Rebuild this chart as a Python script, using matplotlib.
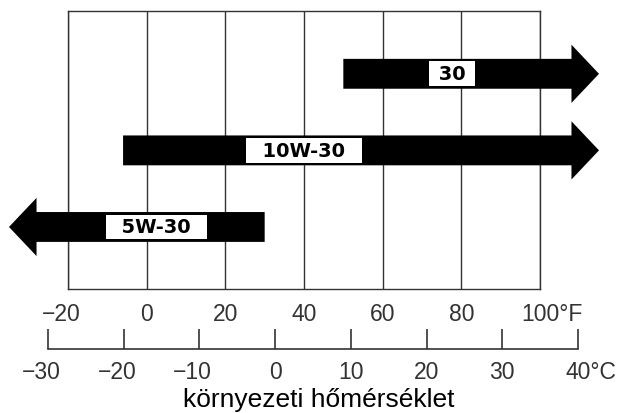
import matplotlib
matplotlib.use('Agg')
import matplotlib.pyplot as plt
from matplotlib.transforms import ScaledTranslation

plt.rcParams['font.family'] = ['Liberation Sans', 'DejaVu Sans']

# oil grades and the temperature range each one covers (in °F)
grades = ['30', '10W-30', '5W-30']
temp_start = [50, -6, 30]
temp_end = [115, 115, -35]
label_at = [77.7, 40, 2.5]
rows = [3, 2, 1]

# the two temperature scales
f_ticks = [-20, 0, 20, 40, 60, 80, 100]
f_labels = ['−20', '0', '20', '40', '60', '80', '100°F']
c_ticks = [-30, -20, -10, 0, 10, 20, 30, 40]
c_labels = ['−30', '−20', '−10', '0', '10', '20', '30', '40°C']
xlabel = 'környezeti hőmérséklet'

W, H = 623, 414
fig = plt.figure(figsize=(W / 100, H / 100), dpi=100)

# main box with the °F grid
ax = fig.add_axes([68 / W, 1 - 290 / H, 472 / W, 278 / H])
ax.set_xlim(-20, 100)
ax.set_ylim(0.19, 3.82)
ax.set_xticks(f_ticks, f_labels)
ax.set_yticks([])
ax.grid(axis='x', color='#333333', lw=1)
for s in ax.spines.values():
    s.set_color('#333333')
    s.set_linewidth(1)
ax.tick_params(axis='x', length=0, pad=9.5, labelsize=16.5, labelcolor='#333333')

# arrows with a white label box
for grade, x0, x1, lx, y in zip(grades, temp_start, temp_end, label_at, rows):
    ax.arrow(x0, y, x1 - x0, 0, width=0.39, head_width=0.76, head_length=7,
             length_includes_head=True, fc='black', ec='none', clip_on=False, zorder=3)
    pad = ' ' if len(grade) < 3 else '  '
    ax.text(lx, y, pad + grade + pad, ha='center', va='center', fontsize=14,
            fontweight='bold', family='DejaVu Sans', zorder=4,
            bbox=dict(boxstyle='square,pad=0.15', fc='white', ec='none'))

# separate °C scale below
ax2 = fig.add_axes([48 / W, 1 - 350 / H, 530 / W, 0.0001])
ax2.set_xlim(-30, 40)
for side in ['left', 'right', 'top']:
    ax2.spines[side].set_visible(False)
ax2.spines['bottom'].set_color('#333333')
ax2.spines['bottom'].set_linewidth(1.2)
ax2.patch.set_visible(False)
ax2.set_yticks([])
ax2.set_xticks(c_ticks, c_labels)
ax2.tick_params(axis='x', direction='in', length=14.4, width=1.2, color='#333333',
                pad=8, labelsize=16.5, labelcolor='#333333')


# keep the numbers centred on the ticks, minus signs and units hang outside
def nudge(axis, texts, unit_px):
    for lab, t in zip(axis.get_xticklabels(), texts):
        dx = 0
        if t.startswith('−'):
            dx = -6.7
        elif '°' in t:
            dx = unit_px
        lab.set_transform(lab.get_transform() + ScaledTranslation(dx / 100, 0, fig.dpi_scale_trans))


nudge(ax, f_labels, 11.6)
nudge(ax2, c_labels, 12.9)

fig.text(318.5 / W, 1 - 407 / H, xlabel, ha='center', va='baseline', fontsize=19, color='black')

fig.savefig('out.png', dpi=100)
